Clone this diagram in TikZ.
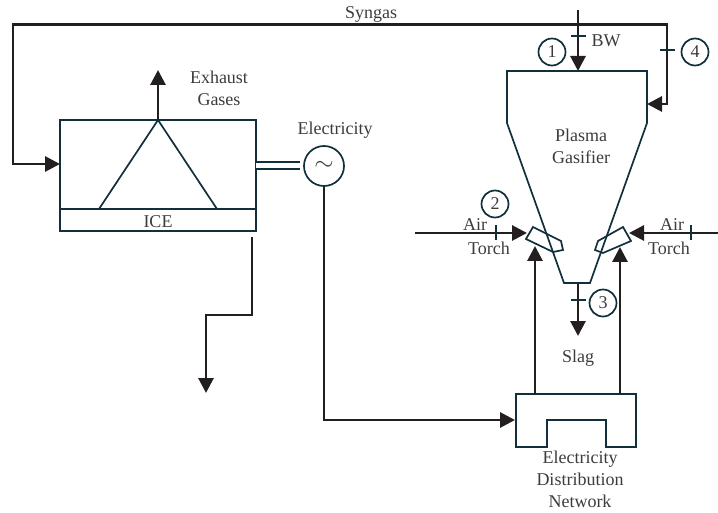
\documentclass[tikz,border=0pt]{standalone}
\usepackage{fontspec}
\setmainfont{Liberation Serif}
\usetikzlibrary{arrows.meta}
\definecolor{unitcol}{HTML}{12303C}
\definecolor{flowcol}{HTML}{231F20}
\definecolor{textcol}{HTML}{3C3C3C}

\begin{document}
\begin{tikzpicture}[
  x=1pt, y=-1pt,
  lbl/.style={inner sep=0pt, align=center, text=textcol, font=\fontsize{18}{22}\selectfont},
  unit/.style={draw=unitcol, line width=1.7pt, line join=miter},
  num/.style={unit, circle, inner sep=0pt, minimum size=27pt, text=textcol, font=\fontsize{18}{22}\selectfont},
  htick/.style={fill=unitcol, inner sep=0pt, minimum width=15pt, minimum height=1.6pt},
  vtick/.style={fill=unitcol, inner sep=0pt, minimum width=1.6pt, minimum height=15pt},
  arr/.style={draw=flowcol, line width=2.9pt, line join=miter, -{Triangle[length=15pt, width=15pt]}}]
  \useasboundingbox (0,0) rectangle (718,513);

  % engine
  \node[unit, inner sep=0pt, minimum width=196pt, minimum height=111pt] (ice) at (158,175.5) {};
  \coordinate (iceTop) at (158,120);
  \coordinate (baseL) at (60,209);
  \coordinate (baseR) at (256,209);
  \coordinate (triL) at (99,209);
  \coordinate (triR) at (217,209);
  \draw[unit] (baseL) -- (baseR);
  \draw[unit] (triL) -- (iceTop) -- (triR);
  \node[lbl] (icelab) at (158,222) {ICE};
  \coordinate (exhTip) at (158,70);
  \draw[arr] (iceTop) -- (exhTip);
  \node[lbl] (exh) at (219,88) {Exhaust\\Gases};

  % generator
  \node[unit, circle, inner sep=0pt, minimum size=40pt] (gen) at (324,166) {};
  \node[lbl] at (gen) {\raisebox{-1pt}{\fontsize{30}{30}\selectfont$\sim$}};
  \node[lbl] (elec) at (335,130) {Electricity};
  \coordinate (shaftA) at (256,165.5);
  \coordinate (shaftB) at (300,165.5);
  \draw[unit, double, double distance=5.5pt, line width=1.4pt] (shaftA) -- (shaftB);

  % gasifier
  \coordinate (gTL) at (507,71);
  \coordinate (gTR) at (647,71);
  \coordinate (gML) at (507,123);
  \coordinate (gMR) at (647,123);
  \coordinate (gBL) at (564,283);
  \coordinate (gBR) at (590,283);
  \draw[unit] (gTL) -- (gTR) -- (gMR) -- (gBR) -- (gBL) -- (gML) -- cycle;
  \node[lbl] (gas) at (581,146) {Plasma\\Gasifier};

  % torches
  \coordinate (tl1) at (533,227);
  \coordinate (tl2) at (561,241);
  \coordinate (tl3) at (563,250);
  \coordinate (tl4) at (553,252);
  \coordinate (tl5) at (526,239);
  \coordinate (tr1) at (623,227);
  \coordinate (tr2) at (631,241);
  \coordinate (tr3) at (603,253);
  \coordinate (tr4) at (595,250);
  \coordinate (tr5) at (598,241);
  \draw[unit] (tl1) -- (tl2) -- (tl3) -- (tl4) -- (tl5) -- cycle;
  \draw[unit] (tr1) -- (tr2) -- (tr3) -- (tr4) -- (tr5) -- cycle;

  % network
  \coordinate (nTL) at (516,394);
  \coordinate (nTR) at (636,394);
  \coordinate (nBR) at (636,447);
  \coordinate (nB2) at (606,447);
  \coordinate (nN2) at (606,420);
  \coordinate (nN1) at (547,420);
  \coordinate (nB1) at (547,447);
  \coordinate (nBL) at (516,447);
  \draw[unit] (nTL) -- (nTR) -- (nBR) -- (nB2) -- (nN2) -- (nN1) -- (nB1) -- (nBL) -- cycle;
  \node[lbl] (netlab) at (580,479.5) {Electricity\\Distribution\\Network};

  % syngas
  \coordinate (iceIn) at (60,164);
  \coordinate (synW) at (13,24.5);
  \coordinate (synE) at (667,24.5);
  \coordinate (gasIn) at (647,104);
  \draw[arr, {Triangle[length=15pt, width=15pt]}-{Triangle[length=15pt, width=15pt]}]
    (iceIn) -| (synW) -- (synE) |- (gasIn);
  \node[lbl, anchor=base] (syn) at (371,19) {Syngas};

  % blast and slag
  \coordinate (bwTop) at (578,10);
  \coordinate (gasTop) at (578,71);
  \draw[arr] (bwTop) -- (gasTop);
  \node[htick] (t1) at (578,36) {};
  \node[lbl] (bw) at (606,41) {BW};
  \coordinate (slagTop) at (578,283);
  \coordinate (slagTip) at (578,336);
  \draw[arr] (slagTop) -- (slagTip);
  \node[htick] (t3) at (578,300) {};
  \node[lbl] (slag) at (578,358) {Slag};
  \node[htick] (t4) at (667,50) {};

  % air to the torches
  \coordinate (airLs) at (415,233);
  \coordinate (airLe) at (527,233);
  \coordinate (airRs) at (718,233);
  \coordinate (airRe) at (629,233);
  \draw[arr] (airLs) -- (airLe);
  \draw[arr] (airRs) -- (airRe);
  \node[vtick] (t2) at (496,233) {};
  \node[vtick] (t5) at (691,233) {};
  \node[lbl] (airL) at (475,225) {Air};
  \node[lbl] (torL) at (489,248) {Torch};
  \node[lbl] (airR) at (672,225) {Air};
  \node[lbl] (torR) at (669,248) {Torch};

  % numbers
  \node[num] (n1) at (552,52) {1};
  \node[num] (n2) at (495,204) {2};
  \node[num] (n3) at (603,303) {3};
  \node[num] (n4) at (695,52) {4};

  % power lines
  \coordinate (netIn) at (515,420);
  \draw[arr] (gen.south) |- (netIn);
  \coordinate (upLs) at (535,394);
  \coordinate (upLe) at (535,246);
  \coordinate (upRs) at (620,394);
  \coordinate (upRe) at (620,247);
  \draw[arr] (upLs) -- (upLe);
  \draw[arr] (upRs) -- (upRe);
  \coordinate (outA) at (252,237);
  \coordinate (outB) at (206,315);
  \coordinate (outC) at (206,393);
  \draw[arr] (outA) |- (outB) -- (outC);
\end{tikzpicture}
\end{document}
